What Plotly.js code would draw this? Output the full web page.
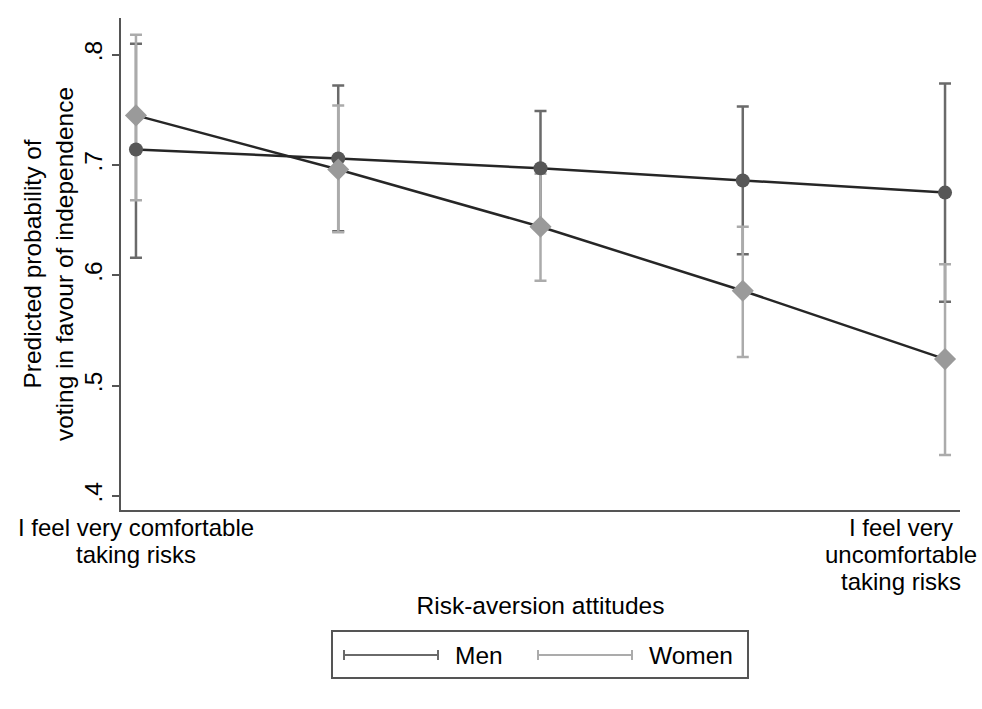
<!DOCTYPE html>
<html>
<head>
<meta charset="utf-8">
<script src="https://cdn.plot.ly/plotly-3.0.1.min.js"></script>
<style>html,body{margin:0;padding:0;background:#fff;}#chart{width:982px;height:709px;}</style>
</head>
<body>
<div id="chart"></div>
<script>
// Data
var riskLevels = [1, 2, 3, 4, 5];
var xTickPositions = [1, 5];
var xTickLabelLines = [
  ["I feel very comfortable", "taking risks"],
  ["I feel very", "uncomfortable", "taking risks"]
];
var yTickVals = [0.4, 0.5, 0.6, 0.7, 0.8];
var yTickText = [".4", ".5", ".6", ".7", ".8"];

var menPred = [0.714, 0.706, 0.697, 0.686, 0.675];
var menLower = [0.616, 0.640, 0.643, 0.619, 0.576];
var menUpper = [0.810, 0.772, 0.749, 0.753, 0.774];

var womenPred = [0.745, 0.696, 0.644, 0.586, 0.524];
var womenLower = [0.668, 0.639, 0.595, 0.526, 0.437];
var womenUpper = [0.818, 0.754, 0.692, 0.644, 0.610];

var seriesNames = ["Men", "Women"];

function plus(hi, v) { return hi.map(function (h, i) { return h - v[i]; }); }
function minus(lo, v) { return lo.map(function (l, i) { return v[i] - l; }); }

var FONT = "Liberation Sans, Arial, Helvetica, sans-serif";
var FS = 24.5;
var TFS = 24;
var menCI = "#6a6a6a", womenCI = "#ababab";
var menMk = "#575757", womenMk = "#9a9a9a";
var lineCol = "#262626";

var traces = [
  { x: riskLevels, y: menPred, type: "scatter", mode: "markers", name: seriesNames[0], showlegend: false,
    marker: { size: 1, color: "rgba(0,0,0,0)" },
    error_y: { type: "data", symmetric: false, array: plus(menUpper, menPred), arrayminus: minus(menLower, menPred),
      color: menCI, thickness: 2.5, width: 6 } },
  { x: riskLevels, y: womenPred, type: "scatter", mode: "markers", name: seriesNames[1], showlegend: false,
    marker: { size: 1, color: "rgba(0,0,0,0)" },
    error_y: { type: "data", symmetric: false, array: plus(womenUpper, womenPred), arrayminus: minus(womenLower, womenPred),
      color: womenCI, thickness: 2.5, width: 6 } },
  { x: riskLevels, y: menPred, type: "scatter", mode: "lines+markers", name: seriesNames[0], showlegend: false,
    line: { color: lineCol, width: 2.5 },
    marker: { symbol: "circle", size: 14, color: menMk } },
  { x: riskLevels, y: womenPred, type: "scatter", mode: "lines+markers", name: seriesNames[1], showlegend: false,
    line: { color: lineCol, width: 2.5 },
    marker: { symbol: "diamond", size: 17, color: womenMk } }
];

// paper coordinate helpers (plot area: x 121..960, y 18..510)
function px(x) { return (x - 121) / 839; }
function py(y) { return (510 - y) / 492; }

var LH = 27;
var annotations = [];
// x tick labels, one annotation per line (tight Stata line spacing)
xTickLabelLines[0].forEach(function (t, i) {
  annotations.push({ x: xTickPositions[0], y: py(527 + LH * i), xref: "x", yref: "paper", text: t, showarrow: false,
    xanchor: "center", yanchor: "middle", borderpad: 0, font: { family: FONT, size: TFS, color: "#000" } });
});
xTickLabelLines[1].forEach(function (t, i) {
  annotations.push({ x: xTickPositions[1], y: py(527 + LH * i), xref: "x", yref: "paper", text: t, showarrow: false,
    xanchor: "center", xshift: -44, yanchor: "middle", borderpad: 0, font: { family: FONT, size: TFS, color: "#000" } });
});
annotations.push({ x: px(453), y: py(655), xref: "paper", yref: "paper", text: seriesNames[0], showarrow: false,
  xanchor: "left", yanchor: "middle", font: { family: FONT, size: FS, color: "#000" } });
annotations.push({ x: px(647), y: py(655), xref: "paper", yref: "paper", text: seriesNames[1], showarrow: false,
  xanchor: "left", yanchor: "middle", font: { family: FONT, size: FS, color: "#000" } });

function legendKey(x0, x1, y, col) {
  var c = 5 / 492;
  return [
    { type: "line", xref: "paper", yref: "paper", x0: px(x0), x1: px(x1), y0: py(y), y1: py(y), line: { color: col, width: 2 } },
    { type: "line", xref: "paper", yref: "paper", x0: px(x0), x1: px(x0), y0: py(y) - c, y1: py(y) + c, line: { color: col, width: 2 } },
    { type: "line", xref: "paper", yref: "paper", x0: px(x1), x1: px(x1), y0: py(y) - c, y1: py(y) + c, line: { color: col, width: 2 } }
  ];
}

var shapes = [
  { type: "rect", xref: "paper", yref: "paper", x0: px(332), x1: px(748), y0: py(678), y1: py(631),
    line: { color: "#555", width: 2 }, fillcolor: "rgba(0,0,0,0)" }
].concat(legendKey(344, 438, 655, menCI)).concat(legendKey(538, 632, 655, womenCI));

var layout = {
  width: 982, height: 709,
  margin: { l: 121, r: 22, t: 18, b: 199 },
  paper_bgcolor: "#fff", plot_bgcolor: "#fff",
  showlegend: false,
  font: { family: FONT, size: FS, color: "#000" },
  xaxis: {
    range: [0.926, 5.074], showgrid: false, zeroline: false,
    showline: true, linecolor: "#555", linewidth: 2,
    ticks: "", showticklabels: false,
    title: { text: "Risk-aversion attitudes", font: { family: FONT, size: FS, color: "#000" }, standoff: 86 }
  },
  yaxis: {
    range: [0.3872, 0.8333], showgrid: false, zeroline: false,
    showline: true, linecolor: "#555", linewidth: 2,
    ticks: "outside", ticklen: 7, tickwidth: 2, tickcolor: "#555",
    tickvals: yTickVals, ticktext: yTickText, tickangle: -90,
    tickfont: { family: FONT, size: FS, color: "#000" },
    title: { text: "Predicted probability of<br>voting in favour of independence", font: { family: FONT, size: FS, color: "#000" }, standoff: 0 },
    automargin: false
  },
  annotations: annotations,
  shapes: shapes
};

Plotly.newPlot("chart", traces, layout, { staticPlot: true, displayModeBar: false });
</script>
</body>
</html>
